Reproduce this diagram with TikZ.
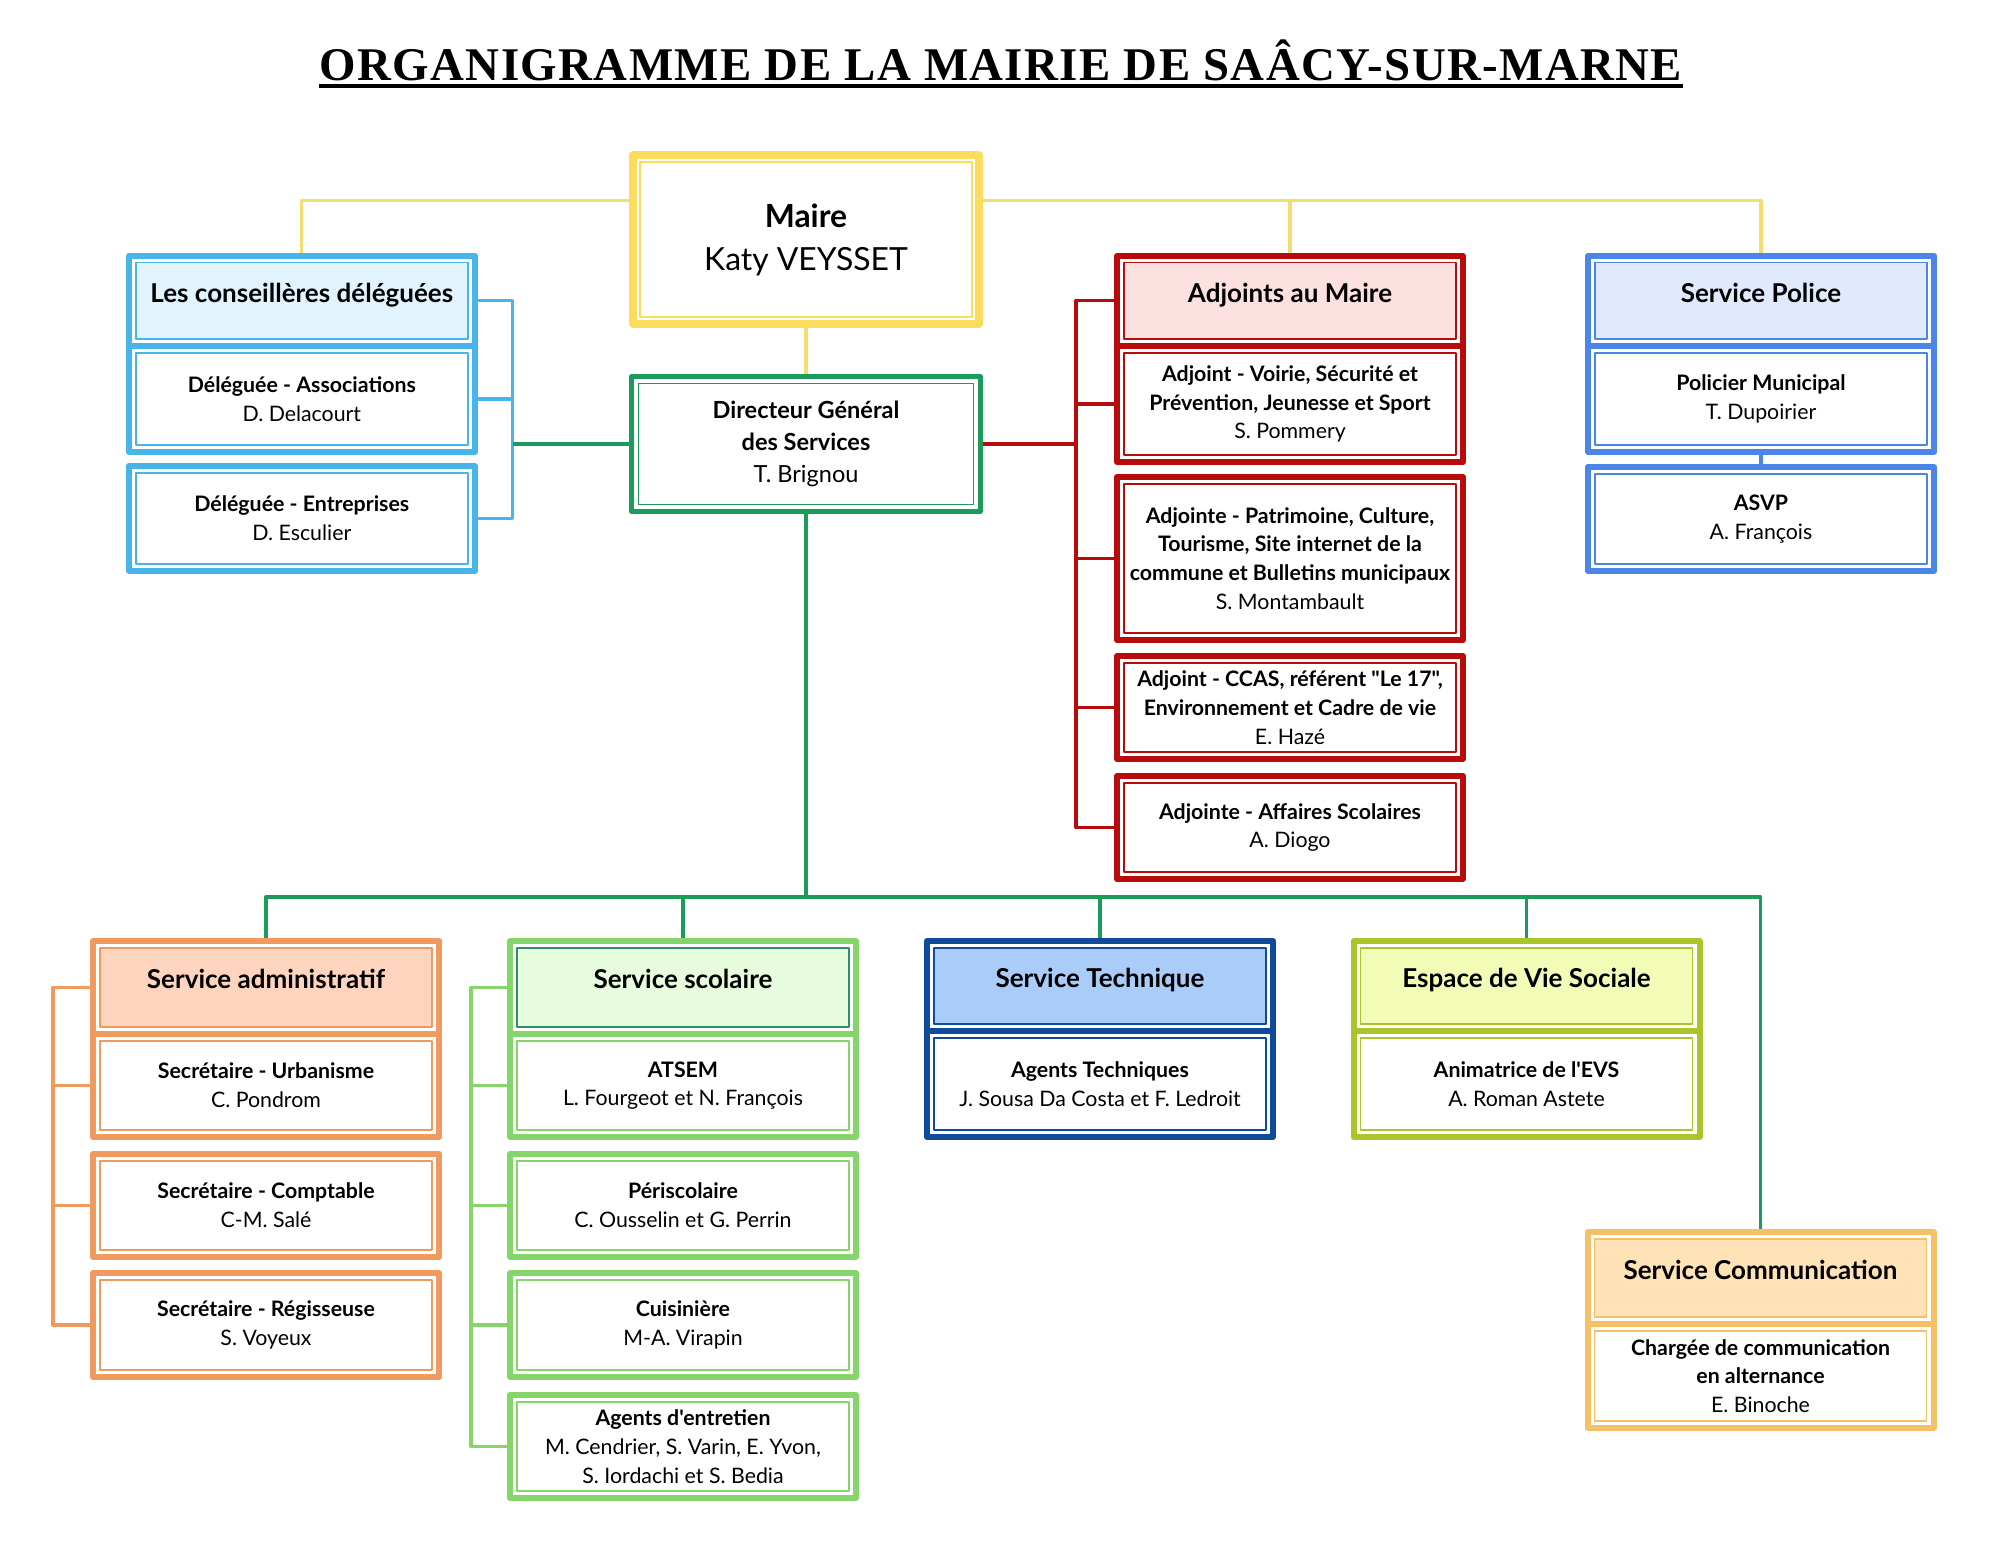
\documentclass[tikz,border=0pt]{standalone}
\usepackage{fontspec}
\setmainfont{Lato}[Ligatures=TeXOff]
\newfontfamily\titlefont[LetterSpace=3]{Liberation Serif}
\usetikzlibrary{calc}
\definecolor{yel}{HTML}{F5DD6E}
\definecolor{mairec}{HTML}{FCDC5C}
\definecolor{dgsc}{HTML}{1B9C5A}
\definecolor{consc}{HTML}{47B5EA}
\definecolor{consf}{HTML}{E1F4FD}
\definecolor{adjc}{HTML}{B80C0C}
\definecolor{adjf}{HTML}{FDE1E1}
\definecolor{polc}{HTML}{4A86E8}
\definecolor{polf}{HTML}{E0EAFC}
\definecolor{admc}{HTML}{F19A5F}
\definecolor{admf}{HTML}{FDD5BF}
\definecolor{scoc}{HTML}{85D56B}
\definecolor{scof}{HTML}{E6FCDC}
\definecolor{scor}{HTML}{2E8F6A}
\definecolor{tecc}{HTML}{0E4B9B}
\definecolor{tecf}{HTML}{AACCF9}
\definecolor{evsc}{HTML}{A9C52A}
\definecolor{evsf}{HTML}{F2FCB6}
\definecolor{comc}{HTML}{F6C067}
\definecolor{comf}{HTML}{FFE2B5}
\newcommand\headfont{\fontsize{11.1pt}{13pt}\selectfont\bfseries}
\newcommand\cellfont{\fontsize{9.1pt}{12.25pt}\selectfont}
\tikzset{
	rimcell/.style n args={3}{draw=#1, fill=white, line width=0.9mm, minimum width=51.9mm, inner sep=0pt, align=center, font=\cellfont,
		path picture={\draw[#3, line width=0.22mm, fill=#2] ([shift={(1.05mm,1.05mm)}]path picture bounding box.south west) rectangle ([shift={(-1.05mm,-1.05mm)}]path picture bounding box.north east);}},
	cell/.style 2 args={rimcell={#1}{#2}{#1}},
	head/.style={font=\headfont, text height=2.8mm, text depth=2.4mm, minimum height=13.56mm},
	wire/.style={draw=#1, line width=0.5mm},
}
\begin{document}
\begin{tikzpicture}[x=0.15mm, y=-0.15mm, line join=round]
	\useasboundingbox (0,0) rectangle (2000,1549);
	\node[font={\titlefont\bfseries\fontsize{20pt}{20pt}\selectfont}, inner sep=0pt, anchor=base] (ttl) at (1001,80.4) {ORGANIGRAMME DE LA MAIRIE DE SAÂCY-SUR-MARNE};
	\draw[line width=0.5mm] ([yshift=-0.85mm]ttl.base west) -- ([yshift=-0.85mm]ttl.base east);

	\node[cell={mairec}{white}, line width=1.2mm, minimum height=25.35mm, font={\fontsize{13.6pt}{18.35pt}\selectfont}] (maire) at (806,239.5) {\textbf{Maire}\\Katy VEYSSET};
	\node[cell={dgsc}{white}, line width=0.75mm, minimum width=52.35mm, minimum height=20.25mm, font={\fontsize{10.05pt}{13.7pt}\selectfont}] (dgs) at (806,444) {\textbf{Directeur Général}\\\textbf{des Services}\\T. Brignou};

	\node[cell={consc}{consf}, head] (cons) at (301.8,300.8) {Les conseillères déléguées};
	\node[cell={consc}{white}, minimum height=15.9mm] (cdel1) at (301.8,399) {\textbf{Déléguée - Associations}\\D. Delacourt};
	\node[cell={consc}{white}, minimum height=15.75mm] (cdel2) at (301.8,518.5) {\textbf{Déléguée - Entreprises}\\D. Esculier};

	\node[cell={adjc}{adjf}, head] (adj) at (1290,300.8) {Adjoints au Maire};
	\node[cell={adjc}{white}, minimum height=17.4mm] (adj1) at (1290,404) {\textbf{Adjoint - Voirie, Sécurité et}\\\textbf{Prévention, Jeunesse et Sport}\\S. Pommery};
	\node[cell={adjc}{white}, minimum height=24.45mm] (adj2) at (1290,558.5) {\textbf{Adjointe - Patrimoine, Culture,}\\\textbf{Tourisme, Site internet de la}\\\textbf{commune et Bulletins municipaux}\\S. Montambault};
	\node[cell={adjc}{white}, minimum height=15.45mm] (adj3) at (1290,707.5) {\textbf{Adjoint - CCAS, référent "Le 17",}\\\textbf{Environnement et Cadre de vie}\\E. Hazé};
	\node[cell={adjc}{white}, minimum height=15.45mm] (adj4) at (1290,827.5) {\textbf{Adjointe - Affaires Scolaires}\\A. Diogo};

	\node[cell={polc}{polf}, head] (pol) at (1761,300.8) {Service Police};
	\node[cell={polc}{white}, minimum height=15.9mm] (pol1) at (1761,399) {\textbf{Policier Municipal}\\T. Dupoirier};
	\node[cell={polc}{white}, minimum height=15.6mm] (pol2) at (1761,519) {\textbf{ASVP}\\A. François};

	\node[cell={admc}{admf}, head, minimum height=13.95mm] (adm) at (266,987.5) {Service administratif};
	\node[cell={admc}{white}, minimum height=15.45mm] (adm1) at (266,1085.5) {\textbf{Secrétaire - Urbanisme}\\C. Pondrom};
	\node[cell={admc}{white}, minimum height=15.45mm] (adm2) at (266,1205.5) {\textbf{Secrétaire - Comptable}\\C-M. Salé};
	\node[cell={admc}{white}, minimum height=15.6mm] (adm3) at (266,1325) {\textbf{Secrétaire - Régisseuse}\\S. Voyeux};

	\node[rimcell={scoc}{scof}{scor}, head, minimum height=13.95mm] (scol) at (683,987.5) {Service scolaire};
	\node[cell={scoc}{white}, minimum height=15.45mm] (scol1) at (683,1085.5) {\textbf{ATSEM}\\L. Fourgeot et N. François};
	\node[cell={scoc}{white}, minimum height=15.45mm] (scol2) at (683,1205.5) {\textbf{Périscolaire}\\C. Ousselin et G. Perrin};
	\node[cell={scoc}{white}, minimum height=15.6mm] (scol3) at (683,1325) {\textbf{Cuisinière}\\M-A. Virapin};
	\node[cell={scoc}{white}, minimum height=15.45mm] (scol4) at (683,1446.5) {\textbf{Agents d'entretien}\\M. Cendrier, S. Varin, E. Yvon,\\S. Iordachi et S. Bedia};

	\node[cell={tecc}{tecf}, head, minimum height=13.5mm] (tech) at (1100,986) {Service Technique};
	\node[cell={tecc}{white}, minimum height=15.9mm] (tech1) at (1100,1084) {\textbf{Agents Techniques}\\J. Sousa Da Costa et F. Ledroit};

	\node[cell={evsc}{evsf}, head, minimum height=13.5mm] (evs) at (1526.5,986) {Espace de Vie Sociale};
	\node[cell={evsc}{white}, minimum height=15.9mm] (evs1) at (1526.5,1084) {\textbf{Animatrice de l'EVS}\\A. Roman Astete};

	\node[cell={comc}{comf}, head, minimum height=13.8mm] (com) at (1760.5,1278) {Service Communication};
	\node[cell={comc}{white}, minimum height=15.6mm] (com1) at (1760.5,1376) {\textbf{Chargée de communication}\\\textbf{en alternance}\\E. Binoche};

	\coordinate (mr) at ([yshift=5.85mm]maire.east);
	\draw[wire=yel] ([yshift=5.85mm]maire.west) -| (cons.north);
	\draw[wire=yel] (mr) -| (pol.north);
	\draw[wire=yel] (adj.north) -- (adj.north |- mr);
	\draw[wire=yel] (maire.south) -- (dgs.north);

	\draw[wire=consc] (cons.east) -- ++(35,0) |- (cdel2.east);
	\draw[wire=consc] (cdel1.east) -- ++(35,0) coordinate (cbar);
	\draw[wire=dgsc] (dgs.west) -- (dgs.west -| cbar);

	\draw[wire=adjc] (adj.west) -- ++(-38,0) |- (adj4.west);
	\foreach \n in {adj1,adj2,adj3}
		\draw[wire=adjc] (\n.west) -- ++(-38,0) coordinate (abar);
	\draw[wire=adjc] (dgs.east) -- (dgs.east -| abar);

	\draw[wire=polc] (pol1.south) -- (pol2.north);

	\coordinate (bus) at (806,897);
	\draw[wire=dgsc] (dgs.south) -- (bus);
	\draw[wire=dgsc] (adm.north) |- (bus) -| (com.north);
	\foreach \n in {scol,tech,evs}
		\draw[wire=dgsc] (\n.north) -- (\n.north |- bus);

	\draw[wire=admc] (adm.west) -- ++(-37,0) |- (adm3.west);
	\foreach \n in {adm1,adm2}
		\draw[wire=admc] (\n.west) -- ++(-37,0);
	\draw[wire=scoc] (scol.west) -- ++(-36,0) |- (scol4.west);
	\foreach \n in {scol1,scol2,scol3}
		\draw[wire=scoc] (\n.west) -- ++(-36,0);
\end{tikzpicture}
\end{document}
